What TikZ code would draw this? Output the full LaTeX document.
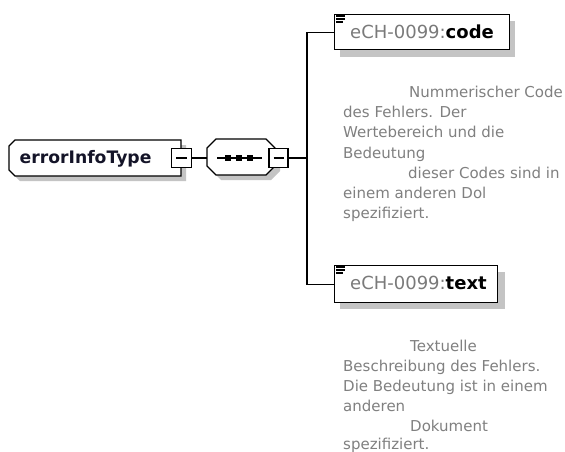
\documentclass[tikz,border=0pt]{standalone}
\usepackage{fontspec}
\setmainfont{DejaVu Sans}
\usetikzlibrary{calc}
\definecolor{shadowgray}{HTML}{C4C4C4}
\definecolor{docgray}{HTML}{808080}
\definecolor{nsgray}{HTML}{7A7A7A}
\tikzset{
  outline/.style={draw=black, line width=1.3pt, fill=white},
  minusbox/.style={draw=black, line width=1.7pt, fill=white, minimum width=19pt, minimum height=19pt, inner sep=0pt},
  conn/.style={draw=black, line width=1.2pt},
  doctext/.style={anchor=base west, inner sep=0pt, text=docgray, font=\fontsize{15}{18}\selectfont},
  elabel/.style={anchor=base west, inner sep=0pt, font=\fontsize{18}{20}\selectfont},
  iconline/.style={draw=black, line width=1.2pt},
}
\begin{document}
\begin{tikzpicture}[x=1pt,y=-1pt]
\useasboundingbox (0,0) rectangle (565,452);
\fill[white] (0,0) rectangle (565,452);

% root element errorInfoType
\fill[shadowgray] (20,145) -- (186,145) -- (186,181) -- (20,181) -- (14,175) -- (14,151) -- cycle;
\path[outline] (15,140) -- (181,140) -- (181,176) -- (15,176) -- (9,170) -- (9,146) -- cycle;
\node[anchor=base west, inner sep=0pt, font=\fontsize{17.2}{18}\selectfont\bfseries, text={rgb,255:red,20;green,20;blue,40}] (root) at (19.5,163.5) {errorInfoType};
\node[minusbox, minimum width=20pt] (rootm) at (181.5,158) {};
\draw[line width=1.2pt] ($(rootm.center)+(-5.5,0)$) -- ($(rootm.center)+(5.5,0)$);

% sequence compositor
\fill[shadowgray] (221,144) -- (271,144) -- (280,153) -- (280,171) -- (271,180) -- (221,180) -- (212,171) -- (212,153) -- cycle;
\path[outline] (216,139) -- (266,139) -- (275,148) -- (275,166) -- (266,175) -- (216,175) -- (207,166) -- (207,148) -- cycle;
\node[inner sep=0pt, minimum width=68pt, minimum height=36pt] (seq) at (241,157) {};
\draw[line width=1.2pt] (217,158) -- (262,158);
\foreach \dx in {228,239,250} \fill[black] (\dx-2.6,155.4) rectangle (\dx+2.6,160.6);
\node[minusbox] (seqm) at (278.5,158) {};
\draw[line width=1.2pt] ($(seqm.center)+(-5,0)$) -- ($(seqm.center)+(5,0)$);

% connectors
\coordinate (trunk) at (307,158);
\draw[conn] (rootm.east) -- (seq.west |- rootm.east);
\draw[conn] (seqm.east) -- (trunk);

% element code
\fill[shadowgray] (340,21) rectangle (515,57);
\node[outline, minimum width=175pt, minimum height=35pt, inner sep=0pt, anchor=north west] (code) at (334,14) {};
\draw[iconline] (336,16) -- (345,16) (336,19) -- (345,19) (336,22) -- (343,22);
\node[elabel] (codelbl) at (350,39) {\textcolor{nsgray}{eCH-0099:}\textbf{code}};

% element text
\fill[shadowgray] (340,272) rectangle (505,309);
\node[outline, minimum width=163pt, minimum height=37pt, inner sep=0pt, anchor=north west] (text) at (334,265) {};
\draw[iconline] (336,267) -- (345,267) (336,270) -- (345,270) (336,273) -- (343,273);
\node[elabel] (textlbl) at (350,289) {\textcolor{nsgray}{eCH-0099:}\textbf{text}};

\draw[conn] (code.west) -| (trunk) |- (text.west);

% documentation
\node[doctext] (d1a) at (409,97.5) {Nummerischer Code};
\node[doctext] (d1b) at (343,117.7) {des Fehlers. Der};
\node[doctext] (d1c) at (343,137.9) {Wertebereich und die};
\node[doctext] (d1d) at (343,158.1) {Bedeutung};
\node[doctext] (d1e) at (408,178.3) {dieser Codes sind in};
\node[doctext] (d1f) at (343,198.5) {einem anderen Dol};
\node[doctext] (d1g) at (343,218.7) {spezifiziert.};

\node[doctext] (d2a) at (410,351) {Textuelle};
\node[doctext] (d2b) at (343,371) {Beschreibung des Fehlers.};
\node[doctext] (d2c) at (343,391) {Die Bedeutung ist in einem};
\node[doctext] (d2d) at (343,411) {anderen};
\node[doctext] (d2e) at (410,431) {Dokument};
\node[doctext] (d2f) at (343,449.5) {spezifiziert.};
\end{tikzpicture}
\end{document}
